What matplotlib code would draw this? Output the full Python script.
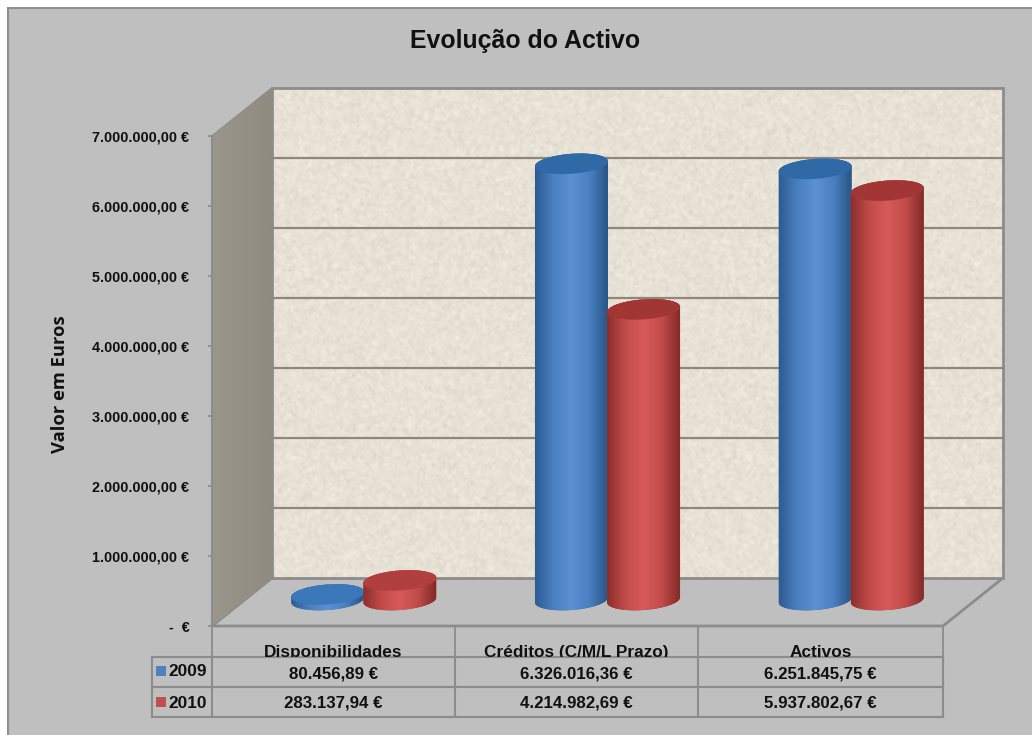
import numpy as np
import matplotlib
matplotlib.use('Agg')
import matplotlib.pyplot as plt
from matplotlib.colors import LinearSegmentedColormap
from matplotlib.patches import Polygon, Rectangle
from matplotlib.transforms import Affine2D, Bbox

plt.rcParams['font.family'] = ['Liberation Sans', 'DejaVu Sans']
plt.rcParams['font.weight'] = 'bold'

# dados
categorias = ['Disponibilidades', 'Créditos (C/M/L Prazo)', 'Activos']
anos = ['2009', '2010']
valores_2009 = [80456.89, 6326016.36, 6251845.75]
valores_2010 = [283137.94, 4214982.69, 5937802.67]
textos_2009 = ['80.456,89 €', '6.326.016,36 €', '6.251.845,75 €']
textos_2010 = ['283.137,94 €', '4.214.982,69 €', '5.937.802,67 €']
y_ticks = [0, 1000000, 2000000, 3000000, 4000000, 5000000, 6000000, 7000000]
y_labels = ['-  €', '1.000.000,00 €', '2.000.000,00 €', '3.000.000,00 €',
            '4.000.000,00 €', '5.000.000,00 €', '6.000.000,00 €', '7.000.000,00 €']

W, H = 1032, 735
CINZA = '#BFBFBF'
LINHA = '#8C8C8C'
AZUL = '#4F81BD'
VERMELHO = '#C0504D'


def px_rect(x0, y_top, x1, y_bot):
    return [x0 / W, 1 - y_bot / H, (x1 - x0) / W, (y_bot - y_top) / H]


fig = plt.figure(figsize=(W / 100, H / 100), dpi=100, facecolor='white')

# camada de fundo em pixeis (moldura, título, tabela)
bg = fig.add_axes([0, 0, 1, 1], zorder=0)
bg.set_xlim(0, W)
bg.set_ylim(H, 0)
bg.axis('off')
# a moldura só se vê em cima e à esquerda, o resto sai da imagem
bg.add_patch(Rectangle((8, 8), W, H, fc=CINZA, ec='#8F8F8F', lw=1.5))
bg.text(525, 41, 'Evolução do Activo', fontsize=17.9, ha='center', va='center', color='#111111')
bg.text(60, 384, 'Valor em Euros', fontsize=13.2, rotation=90, ha='center', va='center', color='#111111',
        family=['Open Sans', 'DejaVu Sans'])

# eixo principal: plano da frente do gráfico 3D
ax = fig.add_axes(px_rect(212, 136, 943, 626), zorder=1)
ax.patch.set_visible(False)
ax.set_xlim(0, 3)
ax.set_ylim(0, 7000000)
for lado in ['top', 'right', 'bottom']:
    ax.spines[lado].set_visible(False)
ax.spines['left'].set_color(LINHA)
ax.spines['left'].set_linewidth(1.5)
ax.set_xticks([])
ax.set_yticks(y_ticks)
ax.set_yticklabels(y_labels, fontsize=10.4, color='#111111')
ax.tick_params(axis='y', length=3, width=1.2, color=LINHA, pad=13.2)


# profundidade: desvio em pixeis entre o plano da frente e a parede do fundo
def prof(d):
    return ax.transData + Affine2D().translate(60 * d, 48 * d)


def extruir(pontos):
    # (x, valor, profundidade) -> pixeis
    return np.array([prof(d).transform((x, v)) for x, v, d in pontos])


def poly(pontos, **kw):
    p = Polygon(extruir(pontos), closed=True, transform=None, clip_on=False, **kw)
    ax.add_patch(p)
    return p


# chão
poly([(0, 0, 0), (3, 0, 0), (3, 0, 1), (0, 0, 1)], fc=CINZA, ec=LINHA, lw=2, zorder=1)

# parede lateral
parede = poly([(0, 0, 0), (0, 0, 1), (0, 7000000, 1), (0, 7000000, 0)], fc='#98948A', ec=LINHA, lw=1.2, zorder=1)
cm_parede = LinearSegmentedColormap.from_list('parede', ['#9A968C', '#8F8B80'])
im = ax.imshow(np.linspace(0, 1, 64).reshape(1, -1), extent=[0, 60 / 243.67, -700000, 7700000],
               aspect='auto', cmap=cm_parede, zorder=1.1, transform=ax.transData)
im.set_clip_on(True)
im.set_clip_box(fig.bbox)
im.set_clip_path(parede)

# parede do fundo com textura
rng = np.random.default_rng(7)
ny, nx = 485, 731
ruido = rng.normal(0, 1, (ny, nx))
for _ in range(2):
    for eixo in (0, 1):
        ruido = (ruido + np.roll(ruido, 1, axis=eixo) + np.roll(ruido, -1, axis=eixo)) / 3
ruido = ruido / ruido.std()
manchas = rng.random((ny, nx)) > 0.9985
base = np.array([232, 225, 213]) / 255
tex = base[None, None, :] + (ruido * 0.012 - manchas * 0.08)[:, :, None]
ax.imshow(np.clip(tex, 0, 1), extent=[0, 3, 0, 7000000], aspect='auto', zorder=1.2,
          transform=prof(1), clip_on=False, interpolation='bilinear')
poly([(0, 0, 1), (3, 0, 1), (3, 7000000, 1), (0, 7000000, 1)], fc='none', ec=LINHA, lw=2, zorder=1.3)
for v in y_ticks[1:-1]:
    ax.plot([0, 3], [v, v], color='#8E877A', lw=1.6, transform=prof(1), clip_on=False, zorder=1.4)

# cilindros
RX = 36.5 / 243.67
RY = 10 * 7000000 / 490
INCL = 0.07 * 243.67 * 7000000 / 490  # inclinação das elipses, em valor por categoria
BASE = 28600
ESCALA = 0.985  # plano a meia profundidade sai ligeiramente mais pequeno
cm_azul = LinearSegmentedColormap.from_list('az', ['#2E5C92', '#4A80C2', '#5B90D2', '#4A80C2', '#2A5586'])
cm_verm = LinearSegmentedColormap.from_list('vm', ['#8C302D', '#C24C4A', '#D65A59', '#C24C4A', '#842B28'])


def cilindro(xc, valor, cmap, cor_topo, ordem):
    t = np.linspace(0, 2 * np.pi, 90)
    ex = RX * np.cos(t)
    ey = RY * np.sin(t) + INCL * RX * np.cos(t)
    trans = prof(0.5)
    topo = BASE + valor * ESCALA
    # contorno do corpo: metade de cima no topo, metade de baixo na base
    cima = t <= np.pi
    baixo = t >= np.pi
    xs = np.r_[xc + ex[cima], xc + ex[baixo]]
    ys = np.r_[topo + ey[cima], BASE + ey[baixo]]
    corpo = Polygon(np.c_[xs, ys], closed=True, transform=trans, fc=cor_topo, ec='none', zorder=ordem, clip_on=False)
    ax.add_patch(corpo)
    im = ax.imshow(np.linspace(0, 1, 80).reshape(1, -1), cmap=cmap, aspect='auto', transform=trans,
                   extent=[xc - RX, xc + RX, BASE - 2 * RY, topo + 2 * RY], zorder=ordem + 0.01)
    im.set_clip_on(True)
    im.set_clip_box(fig.bbox)
    im.set_clip_path(corpo)
    ax.add_patch(Polygon(np.c_[xc + ex, topo + ey], closed=True, transform=trans, fc=cor_topo,
                         ec='none', zorder=ordem + 0.02, clip_on=False))


for i in range(3):
    # os discos baixos têm o topo mais claro
    topo_azul = '#3A78BA' if valores_2009[i] < 500000 else '#2F69A6'
    topo_verm = '#B03F3D' if valores_2010[i] < 500000 else '#A23634'
    cilindro(i + 0.5 - 0.148, valores_2009[i], cm_azul, topo_azul, 3 + i)
    cilindro(i + 0.5 + 0.148, valores_2010[i], cm_verm, topo_verm, 3.5 + i)

ax.set_xlim(0, 3)
ax.set_ylim(0, 7000000)

# tabela de dados por cima
tb = fig.add_axes([0, 0, 1, 1], zorder=2)
tb.set_xlim(0, W)
tb.set_ylim(H, 0)
tb.axis('off')
x_col = [212, 455, 698, 943]
y_lin = [657, 687, 717]
for x in x_col:
    tb.plot([x, x], [626, 657], color=LINHA, lw=1.3)
for x in [152] + x_col:
    tb.plot([x, x], [y_lin[0], y_lin[2]], color=LINHA, lw=1.5)
for y in y_lin:
    tb.plot([152, 943], [y, y], color=LINHA, lw=1.5)
caixa = Bbox.from_extents(0, H - 657, W, H - 626)
for i, nome in enumerate(categorias):
    xc = (x_col[i] + x_col[i + 1]) / 2
    txt = tb.text(xc, 652.5, nome, fontsize=12.4, ha='center', va='center', color='#111111')
    txt.set_clip_box(caixa)
    txt.set_clip_on(True)
    tb.text(xc, 674, textos_2009[i], fontsize=12.2, ha='center', va='center', color='#111111')
    tb.text(xc, 703, textos_2010[i], fontsize=12.2, ha='center', va='center', color='#111111')
for ano, y, cor in zip(anos, [670.5, 701.5], [AZUL, VERMELHO]):
    tb.add_patch(Rectangle((156, y - 5), 10, 10, fc=cor, ec='none'))
    tb.text(168, y + 1.5, ano, fontsize=12.4, ha='left', va='center', color='#111111')

plt.savefig('out.png', dpi=100)
